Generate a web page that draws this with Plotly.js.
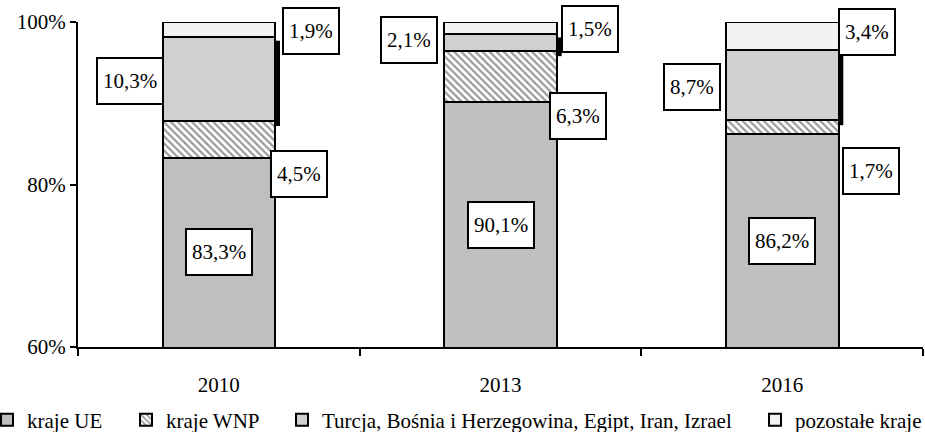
<!DOCTYPE html>
<html>
<head>
<meta charset="utf-8">
<script src="https://cdn.plot.ly/plotly-3.0.1.min.js"></script>
<style>html,body{margin:0;padding:0;background:#fff;}#chart{width:925px;height:432px;}</style>
</head>
<body>
<div id="chart"></div>
<script>
// ---- data ----
const years = ['2010', '2013', '2016'];
const seriesNames = ['kraje UE', 'kraje WNP', 'Turcja, Bośnia i Herzegowina, Egipt, Iran, Izrael', 'pozostałe kraje'];
const krajeUE = [83.3, 90.1, 86.2];
const krajeWNP = [4.5, 6.3, 1.7];
const turcjaEtc = [10.3, 2.1, 8.7];
const pozostale = [1.9, 1.5, 3.4];
const yTicks = [60, 80, 100];

// ---- label placement (positions only) ----
const wnpLabelY = [81.3, 88.4, 81.7];
const wnpLabelDX = [80, 77, 89];
const turLabelY = [92.7, 97.8, 92.0];
const turLabelDX = [-89, -92, -90];
const pozLabelY = [98.9, 99.1, 98.8];
const pozLabelDX = [92, 89, 85];
const legendX = [-13, 126, 282, 755]; // pixel position of each legend entry

const FONT = 'Liberation Serif, Times New Roman, serif';
const fmt = v => v.toFixed(1).replace('.', ',') + '%';
const legendIds = ['legend', 'legend2', 'legend3', 'legend4'];

const traces = [
  {name: seriesNames[0], y: krajeUE, marker: {color: '#bfbfbf', line: {color: '#000', width: 2}}},
  {name: seriesNames[1], y: krajeWNP, marker: {color: '#ffffff', line: {color: '#000', width: 2},
      pattern: {shape: '\\', fgcolor: '#9a9a9a', bgcolor: '#ffffff', size: 5, solidity: 0.45}}},
  {name: seriesNames[2], y: turcjaEtc, marker: {color: '#d0d0d0', line: {color: '#000', width: 2}}},
  {name: seriesNames[3], y: pozostale, marker: {color: '#f2f2f2', line: {color: '#000', width: 2}}}
].map((t, k) => Object.assign({type: 'bar', x: years, hoverinfo: 'skip', legend: legendIds[k]}, t));

const annotations = [];
const shapes = [];
const boxStyle = {showarrow: false, bgcolor: '#fff', bordercolor: '#000', borderwidth: 2, borderpad: 5, height: 34,
  font: {family: FONT, size: 21, color: '#000'}, xref: 'x', yref: 'y'};
years.forEach((yr, i) => {
  annotations.push(Object.assign({}, boxStyle, {x: i, y: (60 + krajeUE[i]) / 2, text: fmt(krajeUE[i])}));
  annotations.push(Object.assign({}, boxStyle, {x: i, xshift: wnpLabelDX[i], y: wnpLabelY[i], text: fmt(krajeWNP[i])}));
  annotations.push(Object.assign({}, boxStyle, {x: i, xshift: turLabelDX[i], y: turLabelY[i], text: fmt(turcjaEtc[i])}));
  annotations.push(Object.assign({}, boxStyle, {x: i, xshift: pozLabelDX[i], y: pozLabelY[i], text: fmt(pozostale[i])}));
  const lo = krajeUE[i] + krajeWNP[i];
  const hi = lo + turcjaEtc[i];
  shapes.push({type: 'line', xref: 'x', yref: 'y', x0: i + 0.21, x1: i + 0.21, y0: lo - 0.6, y1: hi - 0.4,
    line: {color: '#000', width: 4}});
});

const L = 78, R = 2, T = 22, B = 85, W = 925, H = 432;
const plotW = W - L - R, plotH = H - T - B;

const layout = {
  width: W, height: H,
  margin: {l: L, r: R, t: T, b: B, autoexpand: false},
  paper_bgcolor: '#fff', plot_bgcolor: '#fff',
  barmode: 'stack', bargap: 0.6,
  font: {family: FONT, size: 21, color: '#000'},
  showlegend: true,
  xaxis: {type: 'category', showline: true, linecolor: '#000', linewidth: 2, ticks: 'outside', tickson: 'boundaries',
    ticklen: 7, tickwidth: 2, tickcolor: '#000', showgrid: false, zeroline: false, ticklabelstandoff: 18,
    tickfont: {family: FONT, size: 21, color: '#000'}, fixedrange: true},
  yaxis: {range: [60, 100], tickvals: yTicks, ticktext: yTicks.map(v => v + '%'), showline: true, linecolor: '#000',
    linewidth: 2, ticks: 'outside', ticklen: 6, tickwidth: 2, tickcolor: '#000', showgrid: false, zeroline: false,
    tickfont: {family: FONT, size: 21, color: '#000'}, fixedrange: true},
  annotations: annotations,
  shapes: shapes
};
legendIds.forEach((id, k) => {
  layout[id] = {orientation: 'h', x: (legendX[k] - L) / plotW, xanchor: 'left', y: -(420 - (T + plotH)) / plotH,
    yanchor: 'middle', font: {family: FONT, size: 21, color: '#000'}, bgcolor: 'rgba(0,0,0,0)',
    itemclick: false, itemdoubleclick: false};
});

Plotly.newPlot('chart', traces, layout, {displayModeBar: false, staticPlot: true});
</script>
</body>
</html>
